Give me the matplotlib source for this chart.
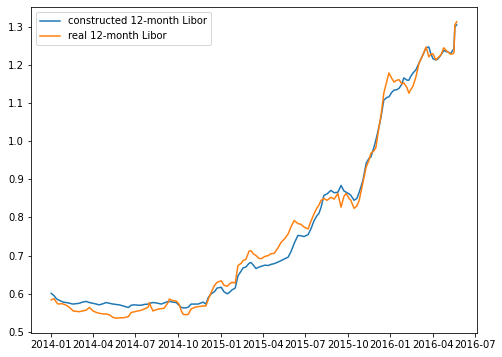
import numpy as np
import pandas as pd
import matplotlib
matplotlib.use("Agg")
import matplotlib.pyplot as plt

# day offsets from 2014-01-01
days = [0, 6, 11, 15, 22, 26, 32, 37, 43, 47, 54, 60, 67, 75, 82, 90, 97, 103, 112, 118,
        125, 133, 140, 146, 155, 166, 172, 179, 187, 194, 200, 209, 211, 215, 219, 226, 230, 237, 243, 252,
        254, 262, 269, 275, 280, 284, 290, 295, 301, 310, 316, 327, 333, 338, 344, 351, 357, 366, 372, 379,
        383, 389, 396, 402, 409, 413, 419, 426, 430, 435, 441, 447, 452, 460, 467, 473, 480, 488, 495, 503,
        510, 516, 523, 531, 538, 544, 553, 559, 566, 572, 576, 581, 587, 594, 602, 609, 617, 624, 630, 635,
        641, 645, 652, 658, 663, 671, 678, 684, 688, 695, 699, 706, 710, 716, 723, 727, 733, 738, 744, 749,
        755, 759, 766, 770, 774, 779, 785, 792, 796, 800, 807, 813, 817, 822, 828, 832, 839, 845, 850, 854,
        860, 865, 867, 869, 873]

constructed = [0.601, 0.595, 0.587, 0.584, 0.580, 0.578, 0.577, 0.576, 0.574, 0.573, 0.574, 0.575, 0.578, 0.580, 0.577, 0.575, 0.573, 0.571, 0.574, 0.577,
               0.575, 0.573, 0.572, 0.571, 0.568, 0.564, 0.570, 0.571, 0.570, 0.570, 0.572, 0.573, 0.574, 0.576, 0.577, 0.576, 0.575, 0.573, 0.576, 0.580,
               0.580, 0.578, 0.577, 0.570, 0.564, 0.563, 0.563, 0.565, 0.573, 0.573, 0.573, 0.578, 0.573, 0.590, 0.600, 0.605, 0.615, 0.617, 0.605, 0.600,
               0.603, 0.610, 0.615, 0.647, 0.660, 0.668, 0.670, 0.680, 0.682, 0.675, 0.666, 0.670, 0.672, 0.675, 0.674, 0.677, 0.679, 0.683, 0.687, 0.692,
               0.696, 0.710, 0.732, 0.753, 0.752, 0.750, 0.755, 0.770, 0.792, 0.805, 0.810, 0.827, 0.858, 0.862, 0.871, 0.865, 0.866, 0.884, 0.870, 0.866,
               0.862, 0.858, 0.845, 0.850, 0.866, 0.897, 0.942, 0.955, 0.958, 0.985, 1.003, 1.040, 1.063, 1.108, 1.115, 1.116, 1.128, 1.134, 1.135, 1.139,
               1.150, 1.166, 1.160, 1.160, 1.170, 1.179, 1.187, 1.205, 1.215, 1.226, 1.245, 1.247, 1.230, 1.216, 1.213, 1.215, 1.226, 1.238, 1.235, 1.234,
               1.230, 1.239, 1.242, 1.300, 1.305]

real = [0.584, 0.587, 0.578, 0.573, 0.574, 0.573, 0.570, 0.566, 0.560, 0.555, 0.554, 0.553, 0.555, 0.557, 0.564, 0.555, 0.551, 0.549, 0.547, 0.547,
        0.545, 0.538, 0.536, 0.537, 0.537, 0.540, 0.551, 0.553, 0.555, 0.557, 0.560, 0.565, 0.577, 0.565, 0.555, 0.558, 0.560, 0.561, 0.562, 0.578,
        0.586, 0.582, 0.581, 0.573, 0.555, 0.546, 0.545, 0.546, 0.560, 0.565, 0.566, 0.568, 0.568, 0.585, 0.603, 0.621, 0.630, 0.634, 0.622, 0.620,
        0.625, 0.630, 0.628, 0.674, 0.680, 0.687, 0.690, 0.712, 0.713, 0.705, 0.700, 0.693, 0.692, 0.698, 0.700, 0.705, 0.706, 0.720, 0.735, 0.745,
        0.757, 0.775, 0.792, 0.784, 0.782, 0.775, 0.770, 0.790, 0.810, 0.825, 0.832, 0.845, 0.850, 0.845, 0.853, 0.848, 0.863, 0.827, 0.855, 0.863,
        0.850, 0.845, 0.824, 0.830, 0.845, 0.892, 0.932, 0.950, 0.968, 0.975, 0.984, 1.040, 1.068, 1.126, 1.160, 1.179, 1.165, 1.155, 1.160, 1.161,
        1.150, 1.153, 1.140, 1.126, 1.135, 1.145, 1.168, 1.205, 1.215, 1.226, 1.247, 1.221, 1.228, 1.229, 1.213, 1.218, 1.226, 1.245, 1.238, 1.234,
        1.228, 1.229, 1.232, 1.305, 1.313]

dates = pd.Timestamp("2014-01-01") + pd.to_timedelta(days, unit="D")

plt.rcParams["font.family"] = ["DejaVu Sans"]
plt.rcParams["font.size"] = 10

fig = plt.figure(figsize=(502 / 72, 357 / 72), dpi=72)
ax = fig.add_axes([31 / 502, 24 / 357, 446 / 502, 326 / 357])
ax.plot(dates, constructed, color="#1f77b4", lw=1.5, label="constructed 12-month Libor")
ax.plot(dates, real, color="#ff7f0e", lw=1.5, label="real 12-month Libor")
ax.set_yticks([0.5, 0.6, 0.7, 0.8, 0.9, 1.0, 1.1, 1.2, 1.3])
ax.legend(loc="upper left")
fig.savefig("out.png", dpi=72)
